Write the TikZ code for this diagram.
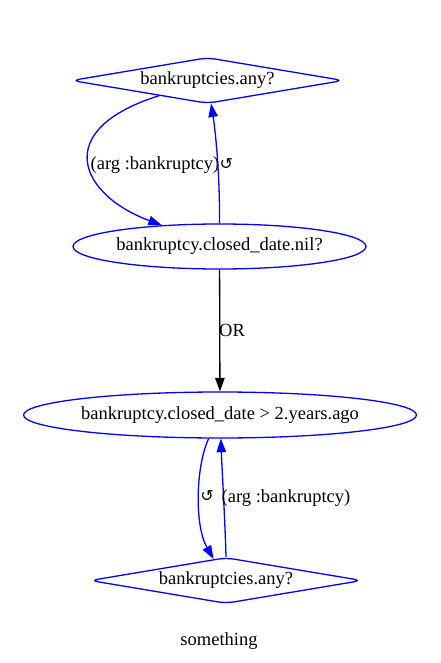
\documentclass[tikz,border=0pt]{standalone}
\usepackage{fontspec}
\setmainfont{Liberation Serif}
\newfontfamily\symfont{DejaVu Sans}
\usetikzlibrary{shapes.geometric,arrows.meta}
\begin{document}
\begin{tikzpicture}[x=1pt,y=-1pt,
  every node/.style={font=\fontsize{18.5}{22}\selectfont},
  dia/.style={diamond, draw=blue, line width=1.3pt, aspect=6, inner sep=0pt, rounded corners=8pt, minimum width=272pt, minimum height=46pt},
  ell/.style={ellipse, draw=blue, line width=1.3pt, inner sep=0pt},
  bedge/.style={draw=blue, line width=1.3pt, -{Triangle[length=13.5pt,width=9.5pt]}},
  kedge/.style={draw=black, line width=1.3pt, -{Triangle[length=13.5pt,width=9.5pt]}},
  lbl/.style={inner sep=0pt}
]
\useasboundingbox (0,0) rectangle (440,663);
\node[dia] (d1) at (207.5,80.5) {bankruptcies.any?};
\node[ell, minimum width=293pt, minimum height=45pt] (e1) at (219.5,246.5) {bankruptcy.closed\_date.nil?};
\node[ell, minimum width=386pt, minimum height=46pt] (e2) at (220,415) {bankruptcy.closed\_date > 2.years.ago};
\node[dia] (d2) at (226,580.5) {bankruptcies.any?};
\node[lbl] (t) at (219,641) {something};

\draw[bedge] (d1) .. controls (50,130) and (80,195) .. (e1);
\node[lbl] (l1) at (155,165) {(arg :bankruptcy)};
\draw[bedge] (e1.north) .. controls (220,180) and (216,135) .. (d1);
\node[lbl, anchor=west] (l2) at (219.5,164) {\symfont\fontsize{16}{18}\selectfont ↺};
\draw[kedge] (e1) -- (e2);
\node[lbl] (l3) at (232,330) {OR};
\draw[bedge] (e2) .. controls (196,465) and (194,525) .. (d2);
\node[lbl] (l4) at (207,496) {\symfont\fontsize{16}{18}\selectfont ↺};
\draw[bedge] (d2.north) .. controls (225,520) and (222,470) .. (e2);
\node[lbl] (l5) at (286,498) {(arg :bankruptcy)};
\end{tikzpicture}
\end{document}
